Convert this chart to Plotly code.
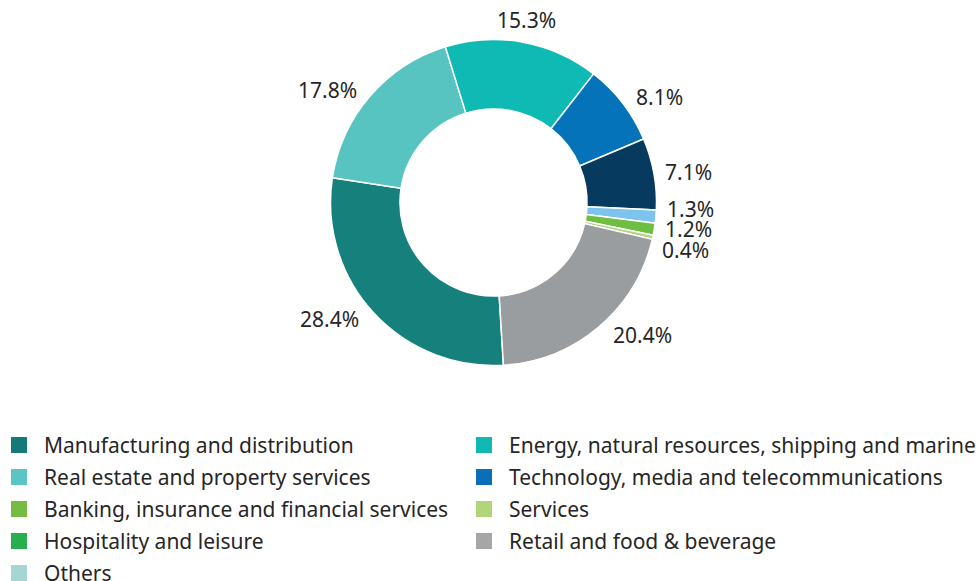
import math
import plotly.graph_objects as go

# Slice data (clockwise order as drawn)
slice_labels = [
    "Manufacturing and distribution",
    "Real estate and property services",
    "Energy, natural resources, shipping and marine",
    "Technology, media and telecommunications",
    "Hospitality and leisure",
    "Others",
    "Banking, insurance and financial services",
    "Services",
    "Retail and food & beverage",
]
slice_values = [28.4, 17.8, 15.3, 8.1, 7.1, 1.3, 1.2, 0.4, 20.4]
slice_colors = ["#16807c", "#57c4c2", "#10bab4", "#0573ba", "#063a5e",
                "#7cc3ee", "#6ebe44", "#aed57a", "#9a9d9f"]

# Legend entries (as printed in the legend, two columns)
legend_col1 = ["Manufacturing and distribution", "Real estate and property services",
               "Banking, insurance and financial services", "Hospitality and leisure", "Others"]
legend_col1_colors = ["#137a78", "#5bc5c3", "#76bb43", "#27ae4f", "#a5d6d4"]
legend_col2 = ["Energy, natural resources, shipping and marine",
               "Technology, media and telecommunications", "Services",
               "Retail and food & beverage"]
legend_col2_colors = ["#10b9b3", "#0a6fb8", "#b1d67a", "#a6a6a6"]

FONT = "Noto Sans"
TXT = "#262626"
W, H = 979, 581
CX, CY, R = 493.5, 202.5, 163.0   # pie centre / radius in pixels
ROTATION = 176.5

fig = go.Figure()
fig.add_trace(go.Pie(
    labels=slice_labels,
    values=slice_values,
    sort=False,
    direction="clockwise",
    rotation=ROTATION,
    hole=0.574,
    marker=dict(colors=slice_colors, line=dict(color="white", width=1.5)),
    textinfo="none",
    hoverinfo="label+percent",
    showlegend=False,
    domain=dict(x=[(CX - R) / W, (CX + R) / W],
                y=[1 - (CY + R) / H, 1 - (CY - R) / H]),
))

# ---- percentage labels placed outside, derived from the slice values ----
total = sum(slice_values)
R_Y = 173.0      # radius used for the label's vertical position
R_TOUCH = 171.0  # circle the label's nearest corner touches
HALF_H = 8.0     # half height of the digits
labels = []
cum = 0.0
for v in slice_values:
    ang = math.radians(ROTATION + (cum + v / 2) / total * 360)
    cum += v
    s, c = math.sin(ang), -math.cos(ang)
    side = "left" if s > 0.3 else ("right" if s < -0.3 else "center")
    labels.append(dict(v=v, s=s, c=c, side=side, y=CY + R_Y * c))

# vertical de-overlap for labels on the same side
MIN_GAP = 20.5
for side in ("left", "right"):
    grp = sorted([l for l in labels if l["side"] == side], key=lambda l: l["y"])
    for _ in range(300):
        moved = False
        for a, b in zip(grp, grp[1:]):
            d = b["y"] - a["y"]
            if d < MIN_GAP - 1e-6:
                sh = (MIN_GAP - d) / 2
                a["y"] -= sh
                b["y"] += sh
                moved = True
        if not moved:
            break

for l in labels:
    if l["side"] == "center":
        x = CX + 186 * l["s"]
        y = CY + 186 * l["c"]
    else:
        dy = l["y"] - CY
        dy_near = math.copysign(max(abs(dy) - HALF_H, 0.0), dy)
        dx = math.sqrt(max(R_TOUCH ** 2 - dy_near ** 2, 0.0))
        x = CX + dx if l["side"] == "left" else CX - dx
        y = l["y"]
    fig.add_annotation(
        x=x / W, y=1 - y / H, xref="paper", yref="paper",
        text=f"{l['v']:.1f}%", showarrow=False,
        xanchor=l["side"], yanchor="middle",
        font=dict(family=FONT, size=21, color=TXT),
    )

# ---- legend: two columns of square swatches + text ----
ROW0, ROW_STEP, SQ = 445, 32, 16
columns = [(legend_col1, legend_col1_colors, 11, 42),
           (legend_col2, legend_col2_colors, 476, 507)]
for names, cols, sq_x, txt_x in columns:
    for i, (name, col) in enumerate(zip(names, cols)):
        yc = ROW0 + i * ROW_STEP
        fig.add_shape(type="rect", xref="paper", yref="paper",
                      x0=sq_x / W, x1=(sq_x + SQ) / W,
                      y0=1 - (yc + SQ / 2) / H, y1=1 - (yc - SQ / 2) / H,
                      fillcolor=col, line=dict(width=0))
        fig.add_annotation(x=txt_x / W, y=1 - yc / H, xref="paper", yref="paper",
                           text=name, showarrow=False, xanchor="left", yanchor="middle",
                           font=dict(family=FONT, size=21, color=TXT))

fig.update_layout(
    width=W, height=H,
    margin=dict(l=0, r=0, t=0, b=0),
    paper_bgcolor="white", plot_bgcolor="white",
    showlegend=False,
)

fig.write_html(
    "out.html",
    config={"displayModeBar": False},
    post_script="document.body.style.margin='0';document.body.style.padding='0';"
                "document.body.style.overflow='hidden';",
)
